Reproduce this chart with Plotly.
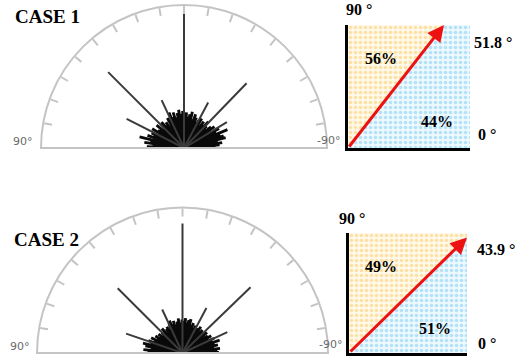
import math
import plotly.graph_objects as go

W, H = 521, 361

# ---------------- data ----------------
case_titles = ["CASE 1", "CASE 2"]
mean_angles = [51.8, 43.9]          # red arrow angle (deg from horizontal)
pct_upper = [56, 49]                # share above the mean direction
pct_lower = [44, 51]                # share below the mean direction

# long isolated rays (theta: + = left / 90°, - = right / -90°; r: fraction of radius)
long1_theta = [0, 45, 63, 25, -28, -44, -59, -90, 90]
long1_r     = [1.00, 0.75, 0.45, 0.37, 0.36, 0.63, 0.35, 0.88, 0.19]
long2_theta = [0, 45, 71, 25, -28, -46, -65, -90, 90]
long2_r     = [0.89, 0.63, 0.41, 0.33, 0.35, 0.65, 0.34, 0.27, 0.27]

# dense central cluster of short rays
clus1_theta = [88, 85, 82, 79, 76, 74, 71, 68, 65, 62, 59, 56, 53, 50, 47, 44, 41, 38,
               35, 32, 29, 26, 23, 20, 17, 14, 11, 8, 5, 2, -1, -4, -7, -10, -13, -16,
               -19, -22, -25, -28, -31, -34, -37, -40, -43, -46, -49, -52, -55, -58,
               -61, -64, -67, -70, -73, -76, -79, -82, -85, -88]
clus1_r     = [0.26, 0.22, 0.28, 0.24, 0.32, 0.21, 0.27, 0.23, 0.25, 0.20, 0.26, 0.22,
               0.21, 0.25, 0.19, 0.23, 0.24, 0.20, 0.22, 0.18, 0.24, 0.21, 0.27, 0.23,
               0.26, 0.22, 0.25, 0.27, 0.24, 0.26, 0.23, 0.25, 0.22, 0.24, 0.26, 0.21,
               0.25, 0.23, 0.20, 0.22, 0.24, 0.19, 0.23, 0.21, 0.25, 0.22, 0.20, 0.24,
               0.26, 0.22, 0.28, 0.25, 0.33, 0.27, 0.29, 0.30, 0.24, 0.27, 0.25, 0.22]
clus2_theta = [88, 85, 82, 79, 76, 73, 70, 67, 64, 61, 58, 55, 52, 49, 46, 43, 40, 37,
               34, 31, 28, 25, 22, 19, 16, 13, 10, 7, 4, 1, -2, -5, -8, -11, -14, -17,
               -20, -23, -26, -29, -32, -35, -38, -41, -44, -47, -50, -53, -56, -59,
               -62, -65, -68, -71, -74, -77, -80, -83, -86, -89]
clus2_r     = [0.24, 0.27, 0.22, 0.26, 0.28, 0.23, 0.25, 0.21, 0.24, 0.20, 0.22, 0.19,
               0.21, 0.18, 0.20, 0.19, 0.22, 0.18, 0.20, 0.21, 0.19, 0.22, 0.24, 0.21,
               0.23, 0.20, 0.22, 0.24, 0.21, 0.23, 0.22, 0.24, 0.21, 0.23, 0.24, 0.20,
               0.22, 0.19, 0.21, 0.18, 0.20, 0.22, 0.19, 0.21, 0.18, 0.20, 0.22, 0.19,
               0.21, 0.23, 0.20, 0.24, 0.22, 0.27, 0.23, 0.25, 0.22, 0.26, 0.24, 0.25]


# ---------------- helpers ----------------
def px(x):
    return x / W


def py(y):
    return 1 - y / H


def rays(thetas, rs):
    rr, tt = [], []
    for t, r in zip(thetas, rs):
        rr += [0, r, None]
        tt += [t, t, None]
    return rr, tt


fig = go.Figure()

polar_names = ["polar", "polar2"]
longs = [(long1_theta, long1_r), (long2_theta, long2_r)]
clusters = [(clus1_theta, clus1_r), (clus2_theta, clus2_r)]

for i in range(2):
    sp = polar_names[i]
    # baseline (diameter)
    fig.add_trace(go.Scatterpolar(r=[1, 0, 1], theta=[90, 0, -90], mode="lines",
                                  line=dict(color="#c4c4c4", width=2),
                                  subplot=sp, hoverinfo="skip"))
    r, t = rays(*clusters[i])
    fig.add_trace(go.Scatterpolar(r=r, theta=t, mode="lines",
                                  line=dict(color="#0a0a0a", width=2.9),
                                  subplot=sp, hoverinfo="skip"))
    r, t = rays(*longs[i])
    fig.add_trace(go.Scatterpolar(r=r, theta=t, mode="lines",
                                  line=dict(color="#3a3a3a", width=2),
                                  subplot=sp, hoverinfo="skip"))

# right panels: split square with mean-direction arrow
xa_names = ["x", "x2"]
ya_names = ["y", "y2"]
orange_fg, orange_bg = "#fcc85c", "#fff9ea"
blue_fg, blue_bg = "#78c9f2", "#eef9fe"
tips = []
for i in range(2):
    a = math.radians(mean_angles[i])
    if mean_angles[i] >= 45:
        tip = (1 / math.tan(a), 1.0)
        ox, oy = [0, 0, tip[0], 0], [0, 1, tip[1], 0]
        bx, by = [0, tip[0], 1, 1, 0], [0, tip[1], 1, 0, 0]
    else:
        tip = (1.0, math.tan(a))
        ox, oy = [0, 0, 1, tip[0], 0], [0, 1, 1, tip[1], 0]
        bx, by = [0, tip[0], 1, 0], [0, tip[1], 0, 0]
    tips.append(tip)
    fig.add_trace(go.Scatter(x=ox, y=oy, mode="lines", fill="toself",
                             line=dict(width=0, color="rgba(0,0,0,0)"),
                             fillcolor=orange_bg,
                             fillpattern=dict(shape=".", fgcolor=orange_fg, bgcolor=orange_bg,
                                              size=5, solidity=0.4),
                             xaxis=xa_names[i], yaxis=ya_names[i], hoverinfo="skip"))
    fig.add_trace(go.Scatter(x=bx, y=by, mode="lines", fill="toself",
                             line=dict(width=0, color="rgba(0,0,0,0)"),
                             fillcolor=blue_bg,
                             fillpattern=dict(shape=".", fgcolor=blue_fg, bgcolor=blue_bg,
                                              size=5, solidity=0.4),
                             xaxis=xa_names[i], yaxis=ya_names[i], hoverinfo="skip"))

angax = dict(rotation=90, direction="counterclockwise", showgrid=False,
             showline=True, linecolor="#c4c4c4", linewidth=2,
             ticks="inside", ticklen=8, tickwidth=1.5, tickcolor="#c4c4c4",
             tickmode="linear", tick0=0, dtick=10, showticklabels=False)
radax = dict(visible=False, range=[0, 1])

cart_ax = dict(range=[0, 1], showgrid=False, zeroline=False, showticklabels=False,
               ticks="", showline=True, linecolor="black", linewidth=3, fixedrange=True)

fig.update_layout(
    width=W, height=H, margin=dict(l=0, r=0, t=0, b=0),
    paper_bgcolor="white", plot_bgcolor="rgba(0,0,0,0)", showlegend=False,
    polar=dict(domain=dict(x=[px(41), px(327)], y=[py(148), py(5)]),
               sector=[0, 180], bgcolor="rgba(0,0,0,0)",
               angularaxis=angax, radialaxis=radax),
    polar2=dict(domain=dict(x=[px(37), px(328)], y=[py(353), py(207.5)]),
                sector=[0, 180], bgcolor="rgba(0,0,0,0)",
                angularaxis=angax, radialaxis=radax),
    xaxis=dict(domain=[px(348), px(470)], anchor="y", **cart_ax),
    yaxis=dict(domain=[py(148), py(25)], anchor="x", **cart_ax),
    xaxis2=dict(domain=[px(349), px(467)], anchor="y2", **cart_ax),
    yaxis2=dict(domain=[py(353), py(233)], anchor="x2", **cart_ax),
)

serif = "Liberation Serif, Times New Roman, serif"
sans = "DejaVu Sans, sans-serif"
ann = []


def txt(x, y, s, size, family, color="black", bold=True):
    ann.append(dict(x=px(x), y=py(y), xref="paper", yref="paper", showarrow=False,
                    text=f"<b>{s}</b>" if bold else s, xanchor="center", yanchor="middle",
                    font=dict(size=size, family=family, color=color)))


# titles
txt(47, 16, case_titles[0], 19, serif)
txt(46, 239, case_titles[1], 19, serif)
# protractor end labels
txt(23, 141, "90°", 11, sans, "#6a6a6a", bold=False)
txt(328, 140, "-90°", 11, sans, "#6a6a6a", bold=False)
txt(20, 346, "90°", 11, sans, "#6a6a6a", bold=False)
txt(330, 344, "-90°", 11, sans, "#6a6a6a", bold=False)
# right panel labels case 1
txt(359, 10, "90 °", 16, serif)
txt(493, 43, f"{mean_angles[0]} °", 16, serif)
txt(487, 134, "0 °", 16, serif)
txt(381, 58, f"{pct_upper[0]}%", 16, serif)
txt(437, 121, f"{pct_lower[0]}%", 16, serif)
# right panel labels case 2
txt(352, 218, "90 °", 16, serif)
txt(496, 249, f"{mean_angles[1]} °", 16, serif)
txt(487, 343, "0 °", 16, serif)
txt(381, 266, f"{pct_upper[1]}%", 16, serif)
txt(435, 328, f"{pct_lower[1]}%", 16, serif)

# arrows
for i in range(2):
    ann.append(dict(x=tips[i][0], y=tips[i][1], ax=0, ay=0,
                    xref=xa_names[i], yref=ya_names[i], axref=xa_names[i], ayref=ya_names[i],
                    text="", showarrow=True, arrowhead=2, arrowsize=1.1, arrowwidth=3,
                    arrowcolor="#ee1111", standoff=0, startstandoff=0))

fig.update_layout(annotations=ann)
fig.write_html("out.html", config={"displayModeBar": False},
               post_script="document.body.style.margin='0';document.body.style.overflow='hidden';")
